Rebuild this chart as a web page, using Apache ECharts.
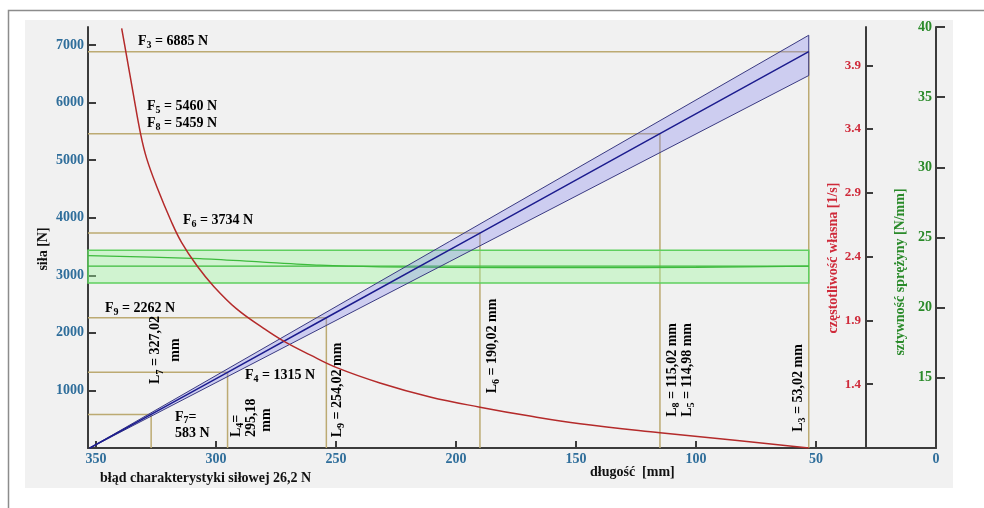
<!DOCTYPE html>
<html><head><meta charset="utf-8">
<script src="https://cdn.jsdelivr.net/npm/echarts@6/dist/echarts.min.js"></script>
<style>html,body{margin:0;padding:0;background:#fff}#c{width:984px;height:508px}</style>
</head><body><div id="c"></div>
<script>
// ---- axis ticks ----
const lengthTicks = [350, 300, 250, 200, 150, 100, 50, 0];
const forceTicks = [1000, 2000, 3000, 4000, 5000, 6000, 7000];
const freqTicks = [1.4, 1.9, 2.4, 2.9, 3.4, 3.9];
const stiffTicks = [15, 20, 25, 30, 35, 40];

// ---- marked working points (L_i, F_i) ----
const markLengths = [327.02, 295.18, 254.02, 190.02, 115.02, 53.02];
const markForces = [583, 1315, 2262, 3734, 5460, 6885];

// ---- spring force characteristic ----
const forceL = [352.6, 327.02, 295.18, 254.02, 190.02, 115.02, 53.02];
const forceF = [0, 583, 1315, 2262, 3734, 5460, 6885];
const forceBandL = [352.6, 53.02];
const forceBandUpper = [0, 7170];
const forceBandLower = [0, 6470];

// ---- natural frequency curve ----
const freqL = [339.3, 337.5, 334.5, 331.4, 328.9, 324.7, 318.5, 314.3, 308.0, 301.1, 291.4, 280.3, 272.0, 260.8, 249.7, 231.7, 210.8, 190.0, 169.2, 148.3, 115.0, 83.8, 53.0];
const freqV = [4.19, 4.00, 3.68, 3.36, 3.17, 2.95, 2.67, 2.51, 2.33, 2.17, 1.99, 1.84, 1.74, 1.63, 1.53, 1.41, 1.30, 1.22, 1.15, 1.09, 1.02, 0.96, 0.90];

// ---- stiffness band ----
const stiffBandL = [353.33, 53.02];
const stiffUpper = [24.1, 24.1];
const stiffLower = [21.75, 21.75];
const stiffNominal = [22.96, 22.96];
const stiffActualL = [353.33, 306.7, 281.7, 256.7, 231.7, 206.7, 150.0, 100.0, 53.02];
const stiffActual = [23.71, 23.5, 23.26, 23.03, 22.91, 22.87, 22.85, 22.88, 22.96];

// ---- ranges ----
const X_MAX = 353.33, F_MAX = 7313, FREQ_MIN = 0.9, FREQ_MAX = 4.2, ST_MIN = 10, ST_MAX = 40;

const SERIF = 'Liberation Serif';
const AXC = '#3c3c3c';
const pairs = (xs, ys) => xs.map((x, i) => [x, ys[i]]);

function bandSeries(xs, upper, lower, yIdx, z, fill, stroke, lw) {
  return {
    type: 'custom', yAxisIndex: yIdx, z: z, silent: true, clip: false,
    data: pairs(xs, upper),
    renderItem: function (params, api) {
      if (params.dataIndex !== 0) return null;
      const pts = [];
      for (let i = 0; i < xs.length; i++) pts.push(api.coord([xs[i], upper[i]]));
      for (let i = xs.length - 1; i >= 0; i--) pts.push(api.coord([xs[i], lower[i]]));
      return { type: 'polygon', shape: { points: pts }, style: { fill: fill, stroke: stroke, lineWidth: lw } };
    }
  };
}

const series = [];
// reference lines
markLengths.forEach((L, i) => {
  series.push({
    type: 'line', z: 1, symbol: 'none', silent: true,
    data: [[L, 0], [L, markForces[i]], [X_MAX, markForces[i]]],
    lineStyle: { color: '#bcaa72', width: 1.5 }
  });
});
// stiffness band
series.push(bandSeries(stiffBandL, stiffUpper, stiffLower, 2, 3, 'rgba(160,248,160,0.4)', '#5fcf5f', 1.5));
series.push({ type: 'line', yAxisIndex: 2, z: 3, symbol: 'none',
  data: pairs(stiffBandL, stiffNominal), lineStyle: { color: '#3dbb3d', width: 1.3 } });
series.push({ type: 'line', yAxisIndex: 2, z: 3, symbol: 'none', smooth: 0.3,
  data: pairs(stiffActualL, stiffActual), lineStyle: { color: '#3dbb3d', width: 1.3 } });
// force band
series.push(bandSeries(forceBandL, forceBandUpper, forceBandLower, 0, 4, 'rgba(130,130,238,0.32)', '#3a3a82', 1));
series.push({ type: 'line', z: 5, symbol: 'none',
  data: pairs(forceL, forceF), lineStyle: { color: '#1c1c8e', width: 1.5 } });
// frequency curve
series.push({ type: 'line', yAxisIndex: 1, z: 6, symbol: 'none', smooth: 0.4,
  data: pairs(freqL, freqV), lineStyle: { color: '#b42a2a', width: 1.5 } });

// ---- text annotations ----
const rich = {
  n: { fontFamily: SERIF, fontWeight: 'bold', fontSize: 14, lineHeight: 18, color: '#111' },
  s: { fontFamily: SERIF, fontWeight: 'bold', fontSize: 10, lineHeight: 10, verticalAlign: 'bottom', color: '#111' }
};
const rich16 = { n: Object.assign({}, rich.n, { lineHeight: 16 }), s: rich.s };
const rich20 = { n: Object.assign({}, rich.n, { lineHeight: 20 }), s: rich.s };
function T(x, y, text, align, rot, r) {
  return { type: 'text', x: x, y: y, z: 100, rotation: rot ? Math.PI / 2 : 0, silent: true,
    style: { text: text, rich: r || rich, align: align || 'left', verticalAlign: 'middle' } };
}
function plain(x, y, text, color, rot, size) {
  return { type: 'text', x: x, y: y, z: 100, rotation: rot ? Math.PI / 2 : 0, silent: true,
    style: { text: text, fill: color, font: 'bold ' + (size || 14) + 'px "' + SERIF + '"', align: rot ? 'center' : 'left', verticalAlign: 'middle' } };
}
const graphics = [
  { type: 'rect', z: -100, silent: true, shape: { x: 8.5, y: 10.5, width: 1000, height: 600 }, style: { fill: '#ffffff', stroke: '#8c8c8c', lineWidth: 1.5 } },
  { type: 'rect', z: -99, silent: true, shape: { x: 25, y: 20, width: 928, height: 468 }, style: { fill: '#f1f1f1' } },
  T(138, 41, '{n|F}{s|3}{n| = 6885 N}'),
  T(147, 106, '{n|F}{s|5}{n| = 5460 N}'),
  T(147, 123, '{n|F}{s|8}{n| = 5459 N}'),
  T(183, 220, '{n|F}{s|6}{n| = 3734 N}'),
  T(105, 308, '{n|F}{s|9}{n| = 2262 N}'),
  T(245, 375, '{n|F}{s|4}{n| = 1315 N}'),
  T(175, 425, '{n|F}{s|7}{n|=}\n{n|583 N}', 'left', false, rich16),
  T(165, 350, '{n|L}{s|7}{n| = 327,02}\n{n|mm}', 'center', true, rich20),
  T(236, 437, '{n|L}{s|4}{n|=}', 'left', true),
  T(251, 437, '{n|295,18}', 'left', true),
  T(266, 420, '{n|mm}', 'center', true),
  T(337, 390, '{n|L}{s|9}{n| = 254,02 mm}', 'center', true),
  T(492, 346, '{n|L}{s|6}{n| = 190,02 mm}', 'center', true),
  T(672, 323, '{n|L}{s|8}{n| = 115,02 mm}', 'right', true),
  T(687, 323, '{n|L}{s|5}{n| = 114,98 mm}', 'right', true),
  T(798, 388, '{n|L}{s|3}{n| = 53,02 mm}', 'center', true),
  plain(43, 249, 'siła [N]', '#111', true),
  plain(833, 258, 'częstotliwość własna [1/s]', '#cf2a3a', true),
  plain(900, 272, 'sztywność sprężyny [N/mm]', '#2a8a2a', true),
  plain(590, 472, 'długość  [mm]', '#111', false),
  plain(100, 478, 'błąd charakterystyki siłowej 26,2 N', '#111', false)
];

const lbl = (color, size, margin, inside, ticks, fmt) => ({
  show: true, inside: !!inside, customValues: ticks, color: color, fontFamily: SERIF, fontWeight: 'bold', fontSize: size, margin: margin,
  formatter: fmt || (v => String(v))
});
const chart = echarts.init(document.getElementById('c'), null, { renderer: 'canvas' });
chart.setOption({
  animation: false,
  backgroundColor: '#ffffff',
  grid: { left: 88, right: 48, top: 27, bottom: 60, containLabel: false },
  xAxis: {
    type: 'value', inverse: true, min: 0, max: X_MAX, position: 'bottom',
    axisLine: { show: true, onZero: false, lineStyle: { color: AXC, width: 2 } },
    axisTick: { show: true, inside: true, length: 7, customValues: lengthTicks, lineStyle: { color: AXC, width: 2 } },
    axisLabel: lbl('#2f6e9b', 14, 4, false, lengthTicks),
    splitLine: { show: false }
  },
  yAxis: [
    { type: 'value', min: 0, max: F_MAX, position: 'left',
      axisLine: { show: true, onZero: false, lineStyle: { color: AXC, width: 2 } },
      axisTick: { show: true, inside: true, length: 8, customValues: forceTicks, lineStyle: { color: AXC, width: 2 } },
      axisLabel: lbl('#2f6e9b', 14, 4, false, forceTicks),
      splitLine: { show: false } },
    { type: 'value', min: FREQ_MIN, max: FREQ_MAX, position: 'right', offset: -70,
      axisLine: { show: true, onZero: false, lineStyle: { color: AXC, width: 2 } },
      axisTick: { show: true, inside: false, length: 7, customValues: freqTicks, lineStyle: { color: AXC, width: 2 } },
      axisLabel: lbl('#cf2a3a', 13, 5, true, freqTicks, v => (+v).toFixed(1)),
      splitLine: { show: false } },
    { type: 'value', min: ST_MIN, max: ST_MAX, position: 'right', offset: 0,
      axisLine: { show: true, onZero: false, lineStyle: { color: AXC, width: 2 } },
      axisTick: { show: true, inside: false, length: 9, customValues: stiffTicks, lineStyle: { color: AXC, width: 2 } },
      axisLabel: lbl('#2a8a2a', 14, 4, true, stiffTicks),
      splitLine: { show: false } }
  ],
  graphic: graphics,
  series: series
});
</script></body></html>
